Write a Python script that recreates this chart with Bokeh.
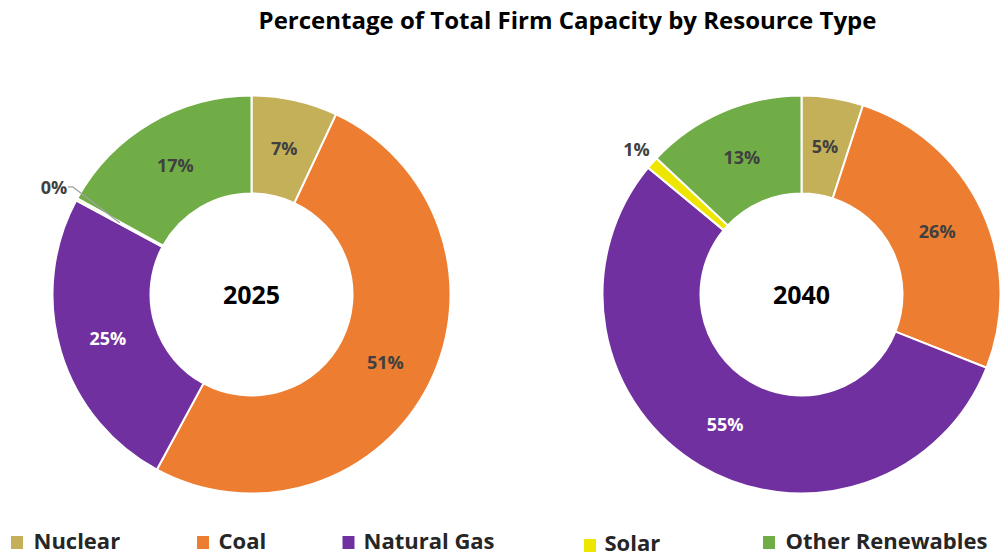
import numpy as np
from bokeh.plotting import figure
from bokeh.models import Range1d
from bokeh.core.properties import value
from bokeh.embed import file_html
from bokeh.resources import INLINE

# ---------------- data ----------------
categories = ["Nuclear", "Coal", "Natural Gas", "Solar", "Other Renewables"]
colors = ["#C5B05A", "#ED7D31", "#7030A0", "#EEE600", "#70AD47"]
label_colors = ["#404040", "#404040", "#FFFFFF", "#404040", "#404040"]
years = ["2025", "2040"]
share_2025 = [7, 51, 25, 0.2, 17]
share_2040 = [5, 26, 55, 1, 13]
title_text = "Percentage of Total Firm Capacity by Resource Type"

# ---------------- layout ----------------
W, H = 1005, 557
FONT = value("Open Sans")


def Y(img_y):
    # convert screenshot y (top-down) to data y (bottom-up)
    return H - img_y


p = figure(width=W, height=H, x_range=Range1d(0, W), y_range=Range1d(0, H),
           output_backend="svg", toolbar_location=None, min_border=0)
p.axis.visible = False
p.grid.visible = False
p.outline_line_color = None
p.background_fill_color = "white"
p.border_fill_color = "white"

centers = [(251, Y(294)), (801, Y(294))]
R_OUT, R_IN, R_LAB = 199, 101, 150
outside_r = [225, 220]

for (cx, cy), year, vals, orad in zip(centers, years, [share_2025, share_2040], outside_r):
    v = np.array(vals, dtype=float)
    fr = v / v.sum()
    cum = np.concatenate([[0.0], np.cumsum(fr)])
    th1 = cum[:-1] * 360.0
    th2 = cum[1:] * 360.0
    start = np.radians(90.0 - th2)
    end = np.radians(90.0 - th1)
    p.annular_wedge(x=cx, y=cy, inner_radius=R_IN, outer_radius=R_OUT,
                    start_angle=start, end_angle=end,
                    fill_color=colors, line_color="white", line_width=2)
    mid = np.radians((th1 + th2) / 2.0)
    labels = [f"{int(round(x))}%" for x in v]
    for i, lab in enumerate(labels):
        small = fr[i] < 0.015
        r = orad if small else R_LAB
        lx = cx + r * np.sin(mid[i])
        ly = cy + r * np.cos(mid[i])
        if fr[i] < 0.005:
            # leader line from label to slice
            ex = cx + R_LAB * np.sin(mid[i])
            ey = cy + R_LAB * np.cos(mid[i])
            p.line(x=[lx + 14, lx + 19, ex], y=[ly, ly, ey], line_color="#A0A0A0", line_width=1.3)
        p.text(x=[lx], y=[ly], text=[lab], text_font=FONT, text_font_style="bold",
               text_font_size="18px", text_color=label_colors[i] if not small else "#404040",
               text_align="center", text_baseline="middle")
    p.text(x=[cx], y=[cy], text=[year], text_font=FONT, text_font_style="bold",
           text_font_size="25px", text_color="black", text_align="center", text_baseline="middle")

# title
p.text(x=[567], y=[Y(19)], text=[title_text], text_font=FONT, text_font_style="bold",
       text_font_size="24px", text_color="black", text_align="center", text_baseline="middle")

# legend
sq_x = [16.5, 202.5, 348, 589.5, 768.5]
sq_y = [542, 542, 542, 545, 542]
tx_x = [33, 218, 363, 604, 785]
tx_y = [539, 539, 539, 541, 539]
p.rect(x=sq_x, y=[Y(v) for v in sq_y], width=12, height=13, fill_color=colors, line_color=None)
p.text(x=tx_x, y=[Y(v) for v in tx_y], text=categories, text_font=FONT, text_font_style="bold",
       text_font_size="22px", text_color="#262626", text_align="left", text_baseline="middle")

open("out.html", "w").write(file_html(p, INLINE))
